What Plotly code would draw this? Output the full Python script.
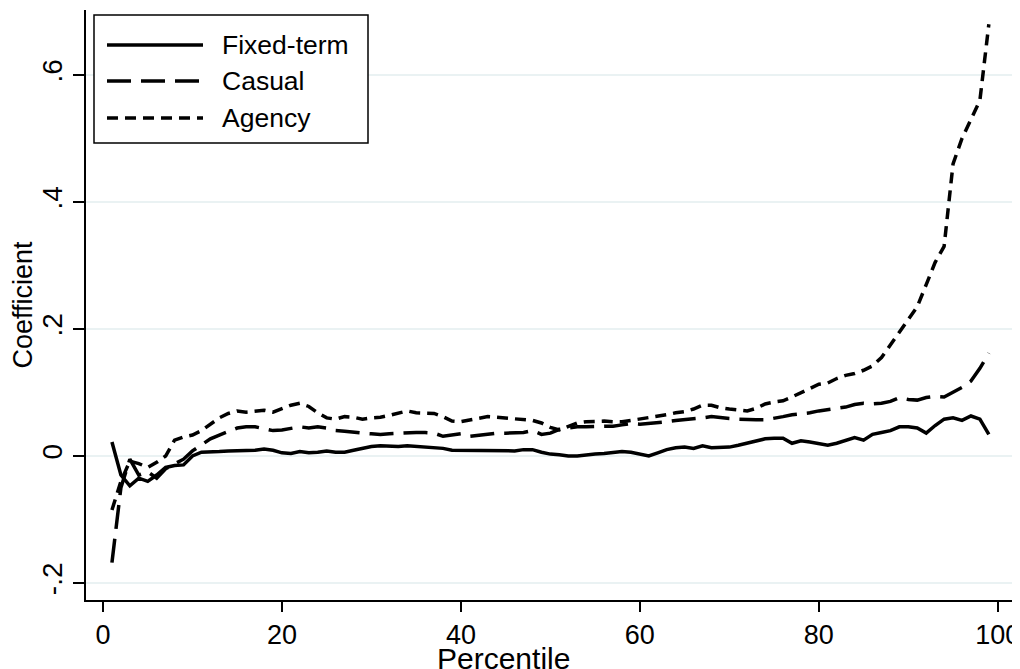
import plotly.graph_objects as go

percentile = list(range(1, 100))

fixed_term = [
    0.022, -0.030, -0.047, -0.035, -0.040, -0.030, -0.018, -0.015, -0.014, 0.000,
    0.006, 0.006, 0.007, 0.008, 0.008, 0.009, 0.009, 0.011, 0.009, 0.005,
    0.004, 0.007, 0.005, 0.006, 0.008, 0.006, 0.006, 0.009, 0.012, 0.015,
    0.016, 0.015, 0.015, 0.016, 0.015, 0.014, 0.013, 0.012, 0.009, 0.009,
    0.008, 0.008, 0.009, 0.008, 0.008, 0.008, 0.010, 0.010, 0.006, 0.003,
    0.002, 0.000, 0.000, 0.002, 0.003, 0.004, 0.005, 0.007, 0.006, 0.003,
    0.000, 0.005, 0.010, 0.013, 0.014, 0.012, 0.016, 0.013, 0.013, 0.014,
    0.017, 0.020, 0.024, 0.027, 0.028, 0.028, 0.020, 0.024, 0.022, 0.020,
    0.017, 0.020, 0.024, 0.029, 0.025, 0.034, 0.037, 0.040, 0.046, 0.046,
    0.044, 0.036, 0.048, 0.058, 0.060, 0.056, 0.063, 0.058, 0.034,
]

casual = [
    -0.168, -0.050, -0.005, -0.030, -0.025, -0.035, -0.020, -0.012, -0.005, 0.008,
    0.018, 0.027, 0.033, 0.038, 0.044, 0.046, 0.046, 0.043, 0.040, 0.041,
    0.043, 0.046, 0.044, 0.046, 0.044, 0.040, 0.039, 0.037, 0.036, 0.035,
    0.034, 0.035, 0.036, 0.037, 0.037, 0.037, 0.036, 0.031, 0.033, 0.035,
    0.031, 0.033, 0.035, 0.036, 0.036, 0.036, 0.037, 0.040, 0.034, 0.036,
    0.042, 0.044, 0.046, 0.046, 0.046, 0.046, 0.047, 0.049, 0.051, 0.050,
    0.051, 0.052, 0.054, 0.056, 0.057, 0.058, 0.060, 0.062, 0.060, 0.059,
    0.058, 0.057, 0.057, 0.057, 0.059, 0.062, 0.065, 0.066, 0.068, 0.071,
    0.073, 0.075, 0.077, 0.081, 0.083, 0.082, 0.083, 0.086, 0.092, 0.089,
    0.088, 0.092, 0.094, 0.093, 0.100, 0.108, 0.118, 0.138, 0.162,
]

agency = [
    -0.085, -0.040, -0.008, -0.012, -0.018, -0.010, 0.000, 0.025, 0.030, 0.033,
    0.040, 0.050, 0.060, 0.067, 0.071, 0.069, 0.071, 0.072, 0.069, 0.075,
    0.080, 0.083, 0.078, 0.068, 0.060, 0.058, 0.062, 0.061, 0.058, 0.060,
    0.061, 0.064, 0.068, 0.071, 0.068, 0.067, 0.067, 0.062, 0.055, 0.054,
    0.057, 0.060, 0.062, 0.061, 0.060, 0.059, 0.058, 0.056, 0.052, 0.045,
    0.041, 0.047, 0.052, 0.054, 0.055, 0.055, 0.054, 0.054, 0.056, 0.058,
    0.060, 0.062, 0.065, 0.068, 0.070, 0.074, 0.080, 0.080, 0.076, 0.074,
    0.072, 0.071, 0.075, 0.082, 0.085, 0.087, 0.093, 0.100, 0.107, 0.113,
    0.115, 0.122, 0.127, 0.130, 0.135, 0.142, 0.155, 0.175, 0.197, 0.215,
    0.235, 0.270, 0.305, 0.330, 0.460, 0.500, 0.530, 0.560, 0.680,
]

series_names = ["Fixed-term", "Casual", "Agency"]
x_ticks = [0, 20, 40, 60, 80, 100]
y_ticks = [-0.2, 0, 0.2, 0.4, 0.6]
y_ticktext = ["-.2", "0", ".2", ".4", ".6"]

FONT = "Liberation Sans, Arial, sans-serif"
dashes = ["solid", "24px,10px", "11px,7px"]
LW = 3.5

# page body has an 8px margin, so the figure is shifted by 8px on screen
OFF = 8
FIG_W, FIG_H = 1020 - OFF, 669 - OFF
# plot area in screen pixels
SL, SR, ST, SB = 86, 1013, 10, 600
L, T = SL - OFF, ST - OFF
R = FIG_W - (SR - OFF)
B = FIG_H - (SB - OFF)
W, H = SR - SL, SB - ST

def px_x(px):
    return (px - SL) / W
def px_y(py):
    return 1 - (py - ST) / H

fig = go.Figure()
for name, vals, dash in zip(series_names, [fixed_term, casual, agency], dashes):
    fig.add_trace(go.Scatter(
        x=percentile, y=vals, mode="lines", name=name,
        line=dict(color="black", width=LW, dash=dash),
        showlegend=False,
    ))

# manual legend (box, sample lines, labels) in paper coordinates
shapes = [dict(type="rect", xref="paper", yref="paper",
               x0=px_x(94), x1=px_x(368), y0=px_y(143), y1=px_y(15),
               line=dict(color="black", width=1.5), fillcolor="white", layer="above")]
annotations = []
rows = [45, 81, 118]
for name, dash, py in zip(series_names, dashes, rows):
    shapes.append(dict(type="line", xref="paper", yref="paper",
                       x0=px_x(107), x1=px_x(203), y0=px_y(py), y1=px_y(py),
                       line=dict(color="black", width=LW, dash=dash), layer="above"))
    annotations.append(dict(xref="paper", yref="paper", x=px_x(220), y=px_y(py),
                            text=name, showarrow=False, xanchor="left", yanchor="middle",
                            font=dict(family=FONT, size=26.5, color="black")))

# x-axis title, low at the bottom edge as in the reference
annotations.append(dict(xref="paper", yref="paper", x=px_x(503), y=px_y(658),
                        text="Percentile", showarrow=False, xanchor="center",
                        yanchor="middle",
                        font=dict(family=FONT, size=30, color="black")))

fig.update_layout(
    width=FIG_W, height=FIG_H,
    margin=dict(l=L, r=R, t=T, b=B),
    paper_bgcolor="white", plot_bgcolor="white",
    font=dict(family=FONT, size=26, color="black"),
    shapes=shapes, annotations=annotations,
    xaxis=dict(
        range=[-1.9, 101.7], tickvals=x_ticks, ticks="outside", ticklen=10,
        tickwidth=1.5, tickcolor="black", showline=True, linecolor="black",
        linewidth=1.8, showgrid=False, zeroline=False, automargin=False,
        ticklabeloverflow="allow",
        tickfont=dict(size=27),
    ),
    yaxis=dict(
        range=[-0.2268, 0.7024], tickvals=y_ticks, ticktext=y_ticktext,
        ticks="outside", ticklen=11, tickwidth=1.5, tickcolor="black",
        showline=True, linecolor="black", linewidth=1.8, automargin=False,
        ticklabeloverflow="allow",
        showgrid=True, gridcolor="#EAF2F3", gridwidth=2, zeroline=False,
        tickangle=-90, tickfont=dict(size=28),
        title=dict(text="Coefficient", font=dict(size=27), standoff=2),
    ),
)

fig.write_html("out.html")
